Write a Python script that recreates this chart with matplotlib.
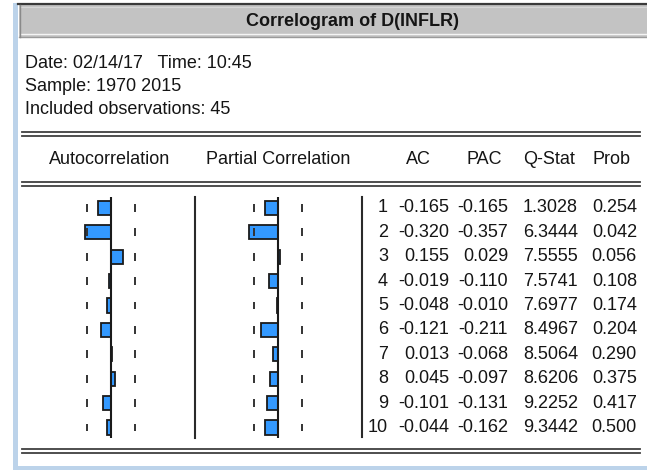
import numpy as np
import matplotlib
matplotlib.use("Agg")
import matplotlib.pyplot as plt
from matplotlib.patches import Rectangle

plt.rcParams['font.family'] = ['Liberation Sans', 'DejaVu Sans']

# correlogram values of D(INFLR)
lags = [1, 2, 3, 4, 5, 6, 7, 8, 9, 10]
ac = [-0.165, -0.320, 0.155, -0.019, -0.048, -0.121, 0.013, 0.045, -0.101, -0.044]
pac = [-0.165, -0.357, 0.029, -0.110, -0.010, -0.211, -0.068, -0.097, -0.131, -0.162]
qstat = [1.3028, 6.3444, 7.5555, 7.5741, 7.6977, 8.4967, 8.5064, 8.6206, 9.2252, 9.3442]
prob = [0.254, 0.042, 0.056, 0.108, 0.174, 0.204, 0.290, 0.375, 0.417, 0.500]
n_obs = 45
title = "Correlogram of D(INFLR)"
info = ["Date: 02/14/17   Time: 10:45", "Sample: 1970 2015", "Included observations: 45"]
col_heads = ["AC", "PAC", "Q-Stat", "Prob"]

W, H = 647, 470
fig = plt.figure(figsize=(W / 100, H / 100), dpi=100)
fig.patch.set_facecolor('white')
bg = fig.add_axes([0, 0, 1, 1])
bg.set_xlim(0, W)
bg.set_ylim(H, 0)
bg.axis('off')

txt = '#151515'
fs = 13

# window frame
bg.add_patch(Rectangle((13, 3), 5, H - 3, color='#bcd3ea', lw=0))
bg.add_patch(Rectangle((13, 466), W - 13, 4, color='#bcd3ea', lw=0))
bg.add_patch(Rectangle((19, 5), W - 19, 32, color='#c3c3c3', lw=0))
bg.plot([18, W], [4, 4], color='#3a3a3a', lw=1.6)
bg.plot([20, W], [7, 7], color='#d6d6d6', lw=0.8)
bg.plot([20, W], [34, 34], color='#f4f4f4', lw=1.0)
bg.plot([19, W], [37, 37], color='#9a9a9a', lw=1.0)
bg.plot([20, 20], [5, 37], color='#8a8a8a', lw=1.0)

bg.text(352, 21, title, ha='center', va='center', fontsize=fs, fontweight='bold', color=txt)
for i, s in enumerate(info):
    bg.text(25, 63 + i * 23.5, s, ha='left', va='center', fontsize=fs, color=txt)

# double rules
for y0 in (132, 182, 449):
    bg.plot([22, 640], [y0, y0], color='#404040', lw=1.3)
    bg.plot([22, 640], [y0 + 4, y0 + 4], color='#404040', lw=1.3)

# headers
bg.text(110, 160, "Autocorrelation", ha='center', va='center', fontsize=fs, color=txt)
bg.text(278, 160, "Partial Correlation", ha='center', va='center', fontsize=fs, color=txt)
for x, s in zip([418, 484, 549, 612], col_heads):
    bg.text(x, 160, s, ha='center', va='center', fontsize=fs, color=txt)

# separators
bg.plot([195, 195], [197, 438], color='#2a2a2a', lw=1.5)
bg.plot([362, 362], [197, 437], color='#2a2a2a', lw=1.5)

# bar panels
bound = 2 / np.sqrt(n_obs)
y_top, y_bot = 197, 438
for cx, vals in [(111, ac), (278, pac)]:
    ax = fig.add_axes([(cx - 80.5) / W, 1 - y_bot / H, 161 / W, (y_bot - y_top) / H])
    ax.set_xlim(-1, 1)
    ax.set_ylim(10.43, 0.55)
    ax.axis('off')
    ax.barh(lags, vals, height=0.58, left=0, color='#3399ff', edgecolor='#1a1a1a', lw=1.3, zorder=2)
    ax.axvline(0, color='#1a1a1a', lw=1.5, zorder=3)
    for b in (-bound, bound):
        ax.vlines([b] * len(lags), np.array(lags) - 0.16, np.array(lags) + 0.16, color='#333333', lw=1.4)

# table values
rows_y = [208 + 24.4 * (l - 1) for l in lags]
for y, l, a, p, q, pr in zip(rows_y, lags, ac, pac, qstat, prob):
    bg.text(388, y, str(l), ha='right', va='center', fontsize=fs, color=txt)
    bg.text(449, y, f"{a:.3f}", ha='right', va='center', fontsize=fs, color=txt)
    bg.text(508, y, f"{p:.3f}", ha='right', va='center', fontsize=fs, color=txt)
    bg.text(578, y, f"{q:.4f}", ha='right', va='center', fontsize=fs, color=txt)
    bg.text(637, y, f"{pr:.3f}", ha='right', va='center', fontsize=fs, color=txt)

fig.savefig('out.png', dpi=100)
